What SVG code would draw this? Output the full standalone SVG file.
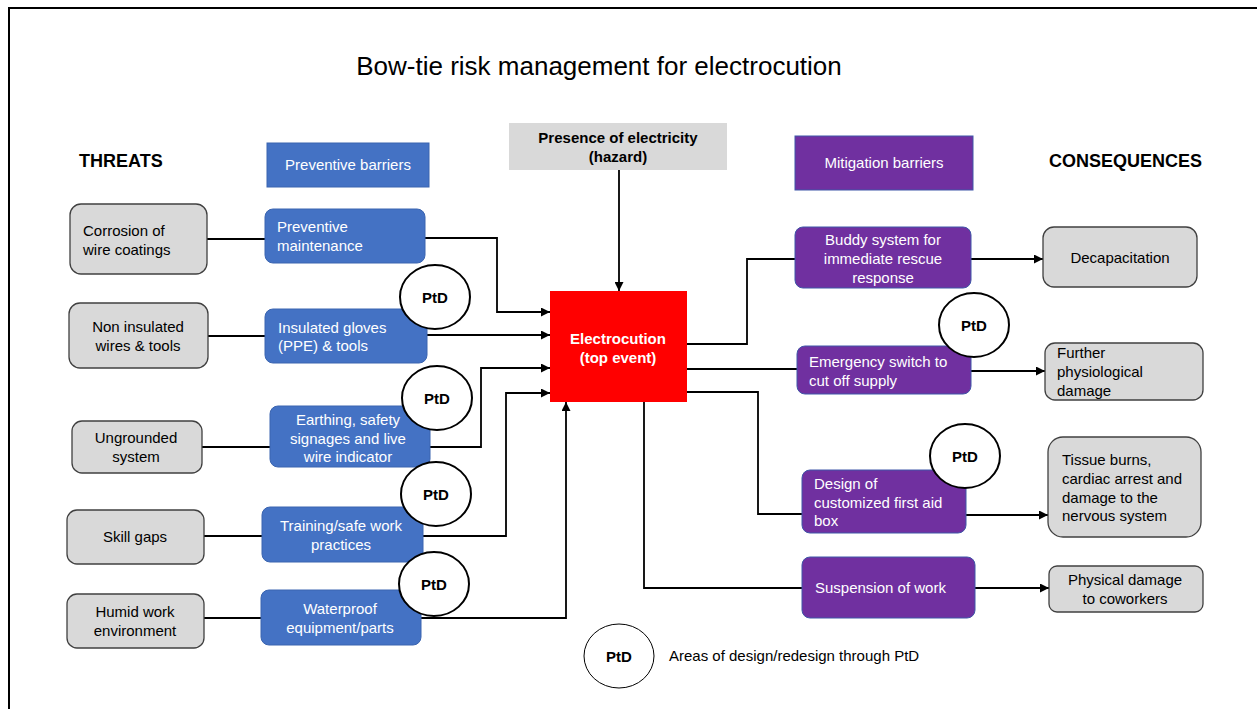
<svg xmlns="http://www.w3.org/2000/svg" width="1257" height="709" viewBox="0 0 1257 709">
<defs>
<marker id="ah" viewBox="0 0 10 10" refX="10" refY="5" markerWidth="5" markerHeight="5" orient="auto" markerUnits="strokeWidth">
<path d="M0,0 L10,5 L0,10 z" fill="#000"/>
</marker>
<style>
text{font-family:"Liberation Sans",Arial,sans-serif;font-size:15px;fill:#000}
.w{fill:#fff}
.b{font-weight:bold}
.c{text-anchor:middle}
.gray{fill:#D9D9D9;stroke:#404040;stroke-width:1.3}
.blue{fill:#4472C4;stroke:#3A64B0;stroke-width:1}
.purp{fill:#7030A0;stroke:#3F56A8;stroke-width:1}
.ptd{fill:#fff;stroke:#000;stroke-width:2}
.ln{fill:none;stroke:#000;stroke-width:1.8}
.arr{fill:none;stroke:#000;stroke-width:1.8;marker-end:url(#ah)}
</style>
</defs>
<rect x="0" y="0" width="1257" height="709" fill="#fff"/>
<rect x="9" y="8" width="1260" height="720" fill="none" stroke="#000" stroke-width="2"/>

<text x="599" y="75" class="c" style="font-size:26px">Bow-tie risk management for electrocution</text>
<text x="79" y="167" class="b" style="font-size:18px">THREATS</text>
<text x="1049" y="167" class="b" style="font-size:18px">CONSEQUENCES</text>

<g id="hdr-preventive">
<rect x="267" y="143" width="162" height="44" fill="#4472C4" stroke="#3A64B0"/>
<text x="348" y="170" class="c w">Preventive  barriers</text>
</g>
<g id="hdr-hazard">
<rect x="509" y="123" width="218" height="47" fill="#D9D9D9"/>
<text x="618" y="143" class="c b">Presence of electricity</text>
<text x="618" y="162" class="c b">(hazard)</text>
</g>
<g id="hdr-mitigation">
<rect x="795" y="136" width="178" height="54" fill="#7030A0" stroke="#3F56A8"/>
<text x="884" y="168" class="c w">Mitigation barriers</text>
</g>

<g id="connectors">
<line class="arr" x1="619" y1="170" x2="619" y2="291"/>
<line class="ln" x1="207" y1="239" x2="265" y2="239"/>
<polyline class="arr" points="425,238 497,238 497,312 550,312"/>
<line class="ln" x1="208" y1="336" x2="265" y2="336"/>
<polyline class="arr" points="427,335 550,335"/>
<line class="ln" x1="202" y1="447" x2="270" y2="447"/>
<polyline class="arr" points="430,447 481,447 481,368 550,368"/>
<line class="ln" x1="204" y1="536" x2="262" y2="536"/>
<polyline class="arr" points="423,536 506,536 506,393 550,393"/>
<line class="ln" x1="204" y1="618" x2="261" y2="618"/>
<polyline class="arr" points="421,618 566,618 566,402"/>
<polyline class="ln" points="687,344 747,344 747,259 795,259"/>
<polyline class="ln" points="687,369 797,369"/>
<polyline class="ln" points="687,392 758,392 758,514 802,514"/>
<polyline class="ln" points="644,402 644,588 802,588"/>
<line class="arr" x1="971" y1="259" x2="1043" y2="259"/>
<line class="arr" x1="971" y1="371" x2="1045" y2="371"/>
<line class="arr" x1="966" y1="515" x2="1048" y2="515"/>
<line class="arr" x1="975" y1="588" x2="1049" y2="588"/>
</g>

<g id="threat-corrosion">
<rect class="gray" x="70" y="204" width="137" height="70" rx="11"/>
<text x="83" y="236">Corrosion of</text>
<text x="83" y="255">wire coatings</text>
</g>
<g id="threat-noninsulated">
<rect class="gray" x="69" y="303" width="139" height="65" rx="11"/>
<text x="138" y="332" class="c">Non insulated</text>
<text x="138" y="351" class="c">wires &amp; tools</text>
</g>
<g id="threat-ungrounded">
<rect class="gray" x="72" y="421" width="130" height="52" rx="10"/>
<text x="136" y="443" class="c">Ungrounded</text>
<text x="136" y="462" class="c">system</text>
</g>
<g id="threat-skill">
<rect class="gray" x="67" y="510" width="137" height="54" rx="10"/>
<text x="135" y="542" class="c">Skill gaps</text>
</g>
<g id="threat-humid">
<rect class="gray" x="67" y="594" width="137" height="54" rx="10"/>
<text x="135" y="617" class="c">Humid work</text>
<text x="135" y="636" class="c">environment</text>
</g>

<g id="barrier-maintenance">
<rect class="blue" x="265" y="209" width="160" height="54" rx="8"/>
<text x="277" y="232" class="w">Preventive</text>
<text x="277" y="251" class="w">maintenance</text>
</g>
<g id="barrier-gloves">
<rect class="blue" x="265" y="309" width="162" height="54" rx="8"/>
<text x="278" y="333" class="w">Insulated  gloves</text>
<text x="278" y="351" class="w">(PPE) &amp; tools</text>
</g>
<g id="barrier-earthing">
<rect class="blue" x="270" y="406" width="160" height="61" rx="8"/>
<text x="348" y="425" class="c w">Earthing, safety</text>
<text x="348" y="444" class="c w">signages and live</text>
<text x="348" y="462" class="c w">wire indicator</text>
</g>
<g id="barrier-training">
<rect class="blue" x="262" y="507" width="161" height="55" rx="8"/>
<text x="341" y="531" class="c w">Training/safe  work</text>
<text x="341" y="550" class="c w">practices</text>
</g>
<g id="barrier-waterproof">
<rect class="blue" x="261" y="590" width="160" height="55" rx="8"/>
<text x="340" y="614" class="c w">Waterproof</text>
<text x="340" y="633" class="c w">equipment/parts</text>
</g>

<g id="top-event">
<rect x="550" y="291" width="137" height="111" fill="#FF0000"/>
<text x="618" y="344" class="c w b">Electrocution</text>
<text x="618" y="363" class="c w b">(top event)</text>
</g>

<g id="mit-buddy">
<rect class="purp" x="795" y="227" width="176" height="61" rx="8"/>
<text x="883" y="245" class="c w">Buddy  system  for</text>
<text x="883" y="264" class="c w">immediate rescue</text>
<text x="883" y="283" class="c w">response</text>
</g>
<g id="mit-emergency">
<rect class="purp" x="797" y="346" width="174" height="48" rx="8"/>
<text x="809" y="367" class="w">Emergency  switch to</text>
<text x="809" y="386" class="w">cut  off supply</text>
</g>
<g id="mit-firstaid">
<rect class="purp" x="802" y="470" width="164" height="63" rx="8"/>
<text x="814" y="489" class="w">Design of</text>
<text x="814" y="508" class="w">customized first aid</text>
<text x="814" y="526" class="w">box</text>
</g>
<g id="mit-suspension">
<rect class="purp" x="802" y="557" width="173" height="61" rx="8"/>
<text x="815" y="593" class="w">Suspension  of work</text>
</g>

<g id="cons-decap">
<rect class="gray" x="1043" y="227" width="154" height="60" rx="11"/>
<text x="1120" y="263" class="c">Decapacitation</text>
</g>
<g id="cons-further">
<rect class="gray" x="1045" y="343" width="158" height="57" rx="10"/>
<text x="1057" y="358">Further</text>
<text x="1057" y="377">physiological</text>
<text x="1057" y="396">damage</text>
</g>
<g id="cons-tissue">
<rect class="gray" x="1048" y="437" width="153" height="100" rx="15"/>
<text x="1062" y="465">Tissue  burns,</text>
<text x="1062" y="484">cardiac arrest and</text>
<text x="1062" y="503">damage to the</text>
<text x="1062" y="521">nervous  system</text>
</g>
<g id="cons-physical">
<rect class="gray" x="1049" y="566" width="154" height="46" rx="8"/>
<text x="1125" y="585" class="c">Physical  damage</text>
<text x="1125" y="604" class="c">to coworkers</text>
</g>

<g id="ptd-1"><ellipse class="ptd" cx="435" cy="297" rx="35" ry="32"/><text x="435" y="303" class="c b">PtD</text></g>
<g id="ptd-2"><ellipse class="ptd" cx="437" cy="398" rx="35" ry="32"/><text x="437" y="404" class="c b">PtD</text></g>
<g id="ptd-3"><ellipse class="ptd" cx="436" cy="494" rx="35" ry="32"/><text x="436" y="500" class="c b">PtD</text></g>
<g id="ptd-4"><ellipse class="ptd" cx="434" cy="584" rx="35" ry="32"/><text x="434" y="590" class="c b">PtD</text></g>
<g id="ptd-5"><ellipse class="ptd" cx="974" cy="325" rx="35" ry="32"/><text x="974" y="331" class="c b">PtD</text></g>
<g id="ptd-6"><ellipse class="ptd" cx="965" cy="456" rx="35" ry="32"/><text x="965" y="462" class="c b">PtD</text></g>

<g id="legend">
<ellipse cx="619" cy="656" rx="35" ry="32" fill="#fff" stroke="#000" stroke-width="1"/>
<text x="619" y="662" class="c b">PtD</text>
<text x="669" y="661">Areas of design/redesign through PtD</text>
</g>
</svg>
